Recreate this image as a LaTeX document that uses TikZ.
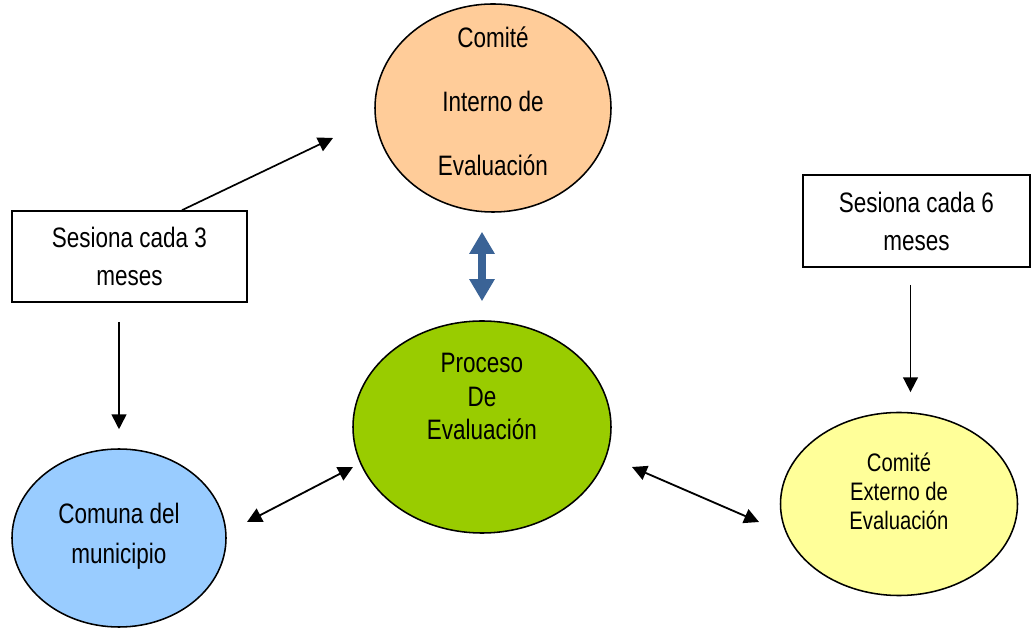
\documentclass[tikz,border=0pt]{standalone}
\usepackage{fontspec}
\setmainfont[FakeStretch=0.8]{Liberation Sans}
\usepackage{tikz}
\usetikzlibrary{positioning,arrows.meta,shapes.geometric}

\definecolor{naranja}{RGB}{255,204,153}
\definecolor{verde}{RGB}{153,204,0}
\definecolor{celeste}{RGB}{153,204,255}
\definecolor{amarillo}{RGB}{255,255,153}
\definecolor{azul}{RGB}{58,99,150}

\begin{document}
\begin{tikzpicture}[
            comite/.style={ellipse, draw, line width=1.1pt, inner sep=0pt, align=center, font=\fontsize{20}{24}\selectfont},
            caja/.style={rectangle, draw, line width=1.2pt, inner sep=0pt, align=center, minimum height=2.275cm, font=\fontsize{20}{27}\selectfont},
            arrow/.style={-{Triangle[length=3.7mm, width=3.7mm]}, line width=1.2pt},
            doble/.style={{Triangle[length=3.7mm, width=3.7mm]}-{Triangle[length=3.7mm, width=3.7mm]}, line width=1.3pt},
            gruesa/.style={{Triangle[length=5.5mm, width=6mm]}-{Triangle[length=5.5mm, width=6mm]}, line width=2mm, draw=azul, fill=azul}
        ]
            \useasboundingbox (0,0) rectangle (25.8,-15.775);
            \node[comite, fill=naranja, minimum width=5.9cm, minimum height=5.2cm, font=\fontsize{20}{45.5}\selectfont, text height=97.7pt, text depth=2.3pt] (ci) at (12.325,-2.7) {Comité\\Interno de\\Evaluación};
            \node[comite, fill=verde, minimum width=6.45cm, minimum height=5.3cm, text height=41.2pt, text depth=22.8pt] (pe) at (12.05,-10.675) {Proceso\\De\\Evaluación};
            \node[comite, fill=celeste, minimum width=5.35cm, minimum height=4.45cm, font=\fontsize{20}{28.5}\selectfont, text height=40.1pt, text depth=4.4pt] (cm) at (2.975,-13.45) {Comuna del\\municipio};
            \node[comite, fill=amarillo, minimum width=5.925cm, minimum height=4.575cm, font=\fontsize{18}{20.6}\selectfont, text height=45.7pt, text depth=9.9pt] (ce) at (22.475,-12.6) {Comité\\Externo de\\Evaluación};
            \node[caja, minimum width=5.875cm] (s3) at (3.2375,-6.4125) {Sesiona cada 3\\meses};
            \node[caja, minimum width=5.675cm, minimum height=2.3cm] (s6) at (22.9125,-5.525) {Sesiona cada 6\\meses};
            \coordinate (ciW) at (8.325,-3.45);
            \coordinate (cmE) at (6.175,-13.05);
            \coordinate (peW) at (8.825,-11.675);
            \coordinate (peE) at (15.8,-11.675);
            \coordinate (ceW) at (18.975,-13.05);
            \draw[arrow] ([xshift=1.3125cm]s3.north) -- (ciW);
            \draw[arrow, shorten <=4.75mm, shorten >=4.75mm] (s3.south -| cm.north) -- (cm.north);
            \draw[arrow, shorten <=4.25mm, shorten >=4.9mm] ([xshift=-1.5mm]s6.south) -- ([xshift=-1.5mm]s6.south |- ce.north);
            \draw[doble] (cmE) -- (peW);
            \draw[doble] (peE) -- (ceW);
            \draw[gruesa, shorten <=4.75mm, shorten >=4.75mm] (ci.south -| pe.north) -- (pe.north);
        \end{tikzpicture}
\end{document}
